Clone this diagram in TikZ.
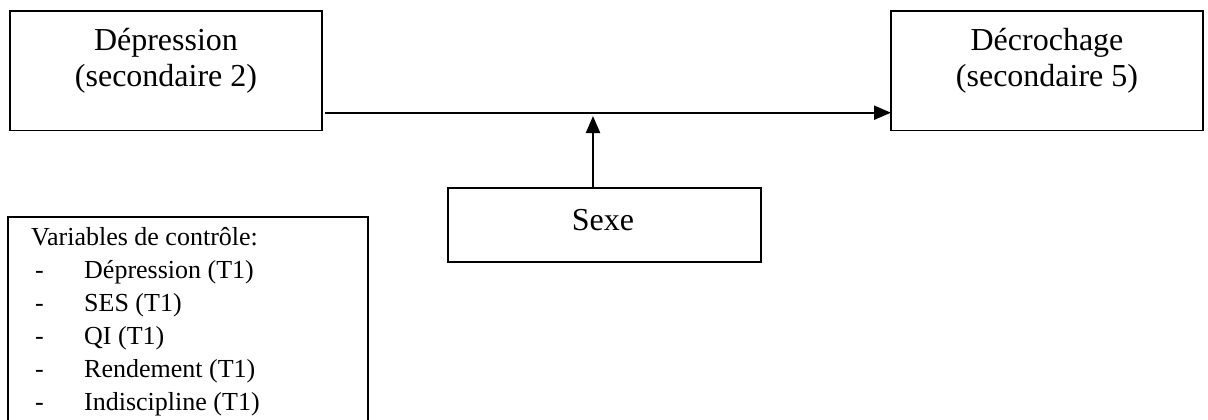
\documentclass[tikz,border=0pt]{standalone}
\usepackage{fontspec}
\setmainfont{Liberation Serif}
\usetikzlibrary{arrows.meta}
\begin{document}
\begin{tikzpicture}[x=1pt,y=-1pt,
  box/.style={draw=black, line width=1.6pt, inner sep=0pt, outer sep=0pt},
  big/.style={font=\fontsize{32}{35}\selectfont, inner sep=0pt, anchor=base},
  small/.style={font=\fontsize{26}{32}\selectfont, inner sep=0pt, anchor=base west},
  arr/.style={line width=2.2pt, -{Triangle[length=17pt,width=14pt]}}]
\clip (0,0) rectangle (1208,420);
\fill[white] (0,0) rectangle (1208,420);
% main boxes
\node[box, minimum width=312pt, minimum height=119.5pt] (dep) at (166,70.75) {};
\node[big] (dep1) at (166,51) {Dépression};
\node[big] (dep2) at (166,86) {(secondaire 2)};
\node[box, minimum width=312pt, minimum height=119.5pt] (dec) at (1047,70.75) {};
\node[big] (dec1) at (1047,51) {Décrochage};
\node[big] (dec2) at (1047,86) {(secondaire 5)};
\node[box, minimum width=313pt, minimum height=74pt] (sexe) at (604.5,225) {};
\node[big] (sexet) at (603,230) {Sexe};
% control variables box
\node[box, minimum width=360pt, minimum height=226pt] (ctrl) at (188,330) {};
\node[small] (ctrlt) at (31,245) {Variables de contrôle:};
\foreach \t [count=\i] in {Dépression (T1), SES (T1), QI (T1), Rendement (T1), Indiscipline (T1)} {
  \node[small] (dash\i) at (35,{245+\i*33}) {-};
  \node[small] (item\i) at (84,{245+\i*33}) {\t};
}
% connectors
\draw[arr] ([xshift=3pt,yshift=17.8pt]dep.south east) -- ([yshift=17.8pt]dec.south west);
\coordinate (m) at (593,116);
\draw[arr] ([xshift=-11.5pt]sexe.north) -- (m);
\end{tikzpicture}
\end{document}
